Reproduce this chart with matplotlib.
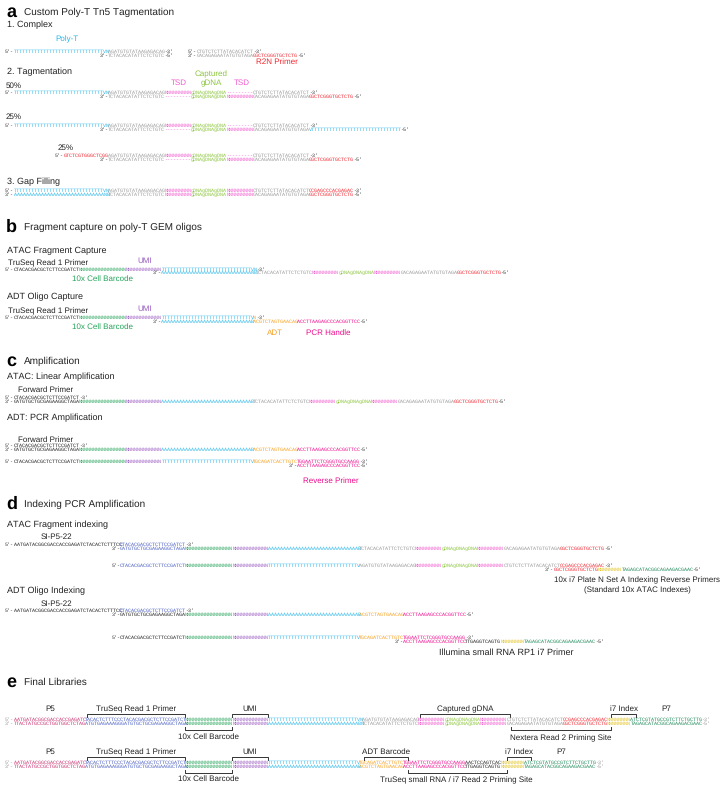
import matplotlib.pyplot as plt

plt.rcParams["text.hinting"] = "no_hinting"
plt.rcParams["text.hinting_factor"] = 1

# sequence pieces used in the schematic
T30 = "T" * 30
A30 = "A" * 30
ME = "AGATGTGTATAAGAGACAG"
ME_C = "TCTACACATATTCTCTGTC"
ME_RC = "CTGTCTCTTATACACATCT"
ME_RC_C = "GACAGAGAATATGTGTAGA"
R2N = "GGCTCGGGTGCTCTG"
R2N_C = "CCGAGCCCACGAGAC"
R2N_FWD = "GTCTCGTGGGCTCGG"
TSD = "N" * 9
GDNA = "gDNAgDNAgDNA"
GAP = "-" * 9
BC = "N" * 16
UMI = "N" * 12
R1 = "CTACACGACGCTCTTCCGATCT"
R1_C = "GATGTGCTGCGAGAAGGCTAGA"
SI_P5 = "AATGATACGGCGACCACCGAGATCTACACTCTTTCC"
ADT = "ACGTCTAGTGAACAG"
ADT_C = "TGCAGATCACTTGTC"
HANDLE = "ACCTTAAGAGCCCACGGTTCC"
HANDLE_C = "TGGAATTCTCGGGTGCCAAGG"
RP1 = "AACTCCAGTCAC"
RP1_C = "TTGAGGTCAGTG"
I7 = "N" * 8
P7 = "ATCTCGTATGCCGTCTTCTGCTTG"
P7_C = "TAGAGCATACGGCAGAAGACGAAC"
P5 = "AATGATACGGCGACCACCGAGATC"
P5_C = "TTACTATGCCGCTGGTGGCTCTAG"
R1_FULL = "TACACTCTTTCCCTACACGACGCTCTTCCGATCT"
R1_FULL_C = "ATGTGAGAAAGGGATGTGCTGCGAGAAGGCTAGA"

# colours
C_END = "#333333"
C_GRAY = "#9a9a9a"
C_CYAN = "#29b6e8"
C_RED = "#f2262f"
C_TSD = "#f25ccf"
C_GDNA = "#8cc63f"
C_BC = "#25a55a"
C_UMI = "#9a5cc0"
C_ADT = "#f7a021"
C_HANDLE = "#ec0b8c"
C_BLUE = "#4a5fc4"
C_P5 = "#c8306e"
C_I7 = "#e0c21c"
C_P7 = "#1f8a5a"
C_BLK = "#222222"

CW = 2.95          # px per sequence character
X0 = 5
SANS = "Liberation Sans"
MONO = "Liberation Mono"

fig = plt.figure(figsize=(7.28, 7.88), dpi=100)
ax = fig.add_axes([0, 0, 1, 1])
ax.set_xlim(0, 728)
ax.set_ylim(788, 0)
ax.axis("off")

# calibrate the monospace size so one character is CW pixels wide
probe = ax.text(0, 0, "N" * 200, fontsize=10, family=MONO)
fig.canvas.draw()
SEQ_FS = 10 * CW / (probe.get_window_extent().width / 200)
probe.remove()


def strand(col, y, parts):
    x = X0 + col * CW
    for s, c in parts:
        ax.text(x, y, s, color=c, fontsize=SEQ_FS, family=MONO,
                ha="left", va="center")
        x += len(s) * CW


def label(x, y, s, size=6, color="#222222", ha="left", weight="normal"):
    ax.text(x, y, s, fontsize=size, color=color, ha=ha, va="center",
            family=SANS, fontweight=weight)


def panel(y, letter, title):
    label(6, y, letter, size=13, weight="bold", color="black")
    label(24, y, title, size=7)


def bracket(x0, x1, y, up):
    d = 3 if up else -3
    ax.plot([x0, x0, x1, x1], [y + d, y, y, y + d], color="#333333", lw=0.7)


# ---------------- a ----------------
panel(12, "a", "Custom Poly-T Tn5 Tagmentation")
label(7, 25, "1. Complex", size=6.8)
label(67, 39, "Poly-T", size=6, color=C_CYAN, ha="center")
strand(0, 52, [("5'-", C_END), (T30 + "VN", C_CYAN), (ME, C_GRAY), ("-3'", C_END)])
strand(32, 56, [("3'-", C_END), (ME_C, C_GRAY), ("-5'", C_END)])
strand(62, 52, [("5'-", C_END), (ME_RC, C_GRAY), ("-3'", C_END)])
strand(62, 56, [("3'-", C_END), (ME_RC_C, C_GRAY), (R2N, C_RED), ("-5'", C_END)])
label(277, 62, "R2N Primer", size=6, color=C_RED, ha="center")

label(7, 72, "2. Tagmentation", size=6.8)
label(211, 74, "Captured", size=6, color=C_GDNA, ha="center")
label(211, 83, "gDNA", size=6, color=C_GDNA, ha="center")
label(179, 83, "TSD", size=6, color=C_TSD, ha="center")
label(242, 83, "TSD", size=6, color=C_TSD, ha="center")

top_frag = [(ME, C_GRAY), (TSD, C_TSD), (GDNA, C_GDNA), (GAP, C_TSD),
            (ME_RC, C_GRAY), ("-3'", C_END)]
bot_frag = [("3'-", C_END), (ME_C, C_GRAY), (GAP, C_TSD), (GDNA, C_GDNA),
            (TSD, C_TSD), (ME_RC_C, C_GRAY)]

label(6, 86, "50%", size=6)
strand(0, 93, [("5'-", C_END), (T30 + "VN", C_CYAN)] + top_frag)
strand(32, 97, bot_frag + [(R2N, C_RED), ("-5'", C_END)])

label(6, 117, "25%", size=6)
strand(0, 126, [("5'-", C_END), (T30 + "VN", C_CYAN)] + top_frag)
strand(32, 130, bot_frag + [("V" + T30, C_CYAN), ("-5'", C_END)])

label(58, 148, "25%", size=6)
strand(17, 156, [("5'-", C_END), (R2N_FWD, C_RED)] + top_frag)
strand(32, 160, bot_frag + [(R2N, C_RED), ("-5'", C_END)])

label(7, 182, "3. Gap Filling", size=6.8)
strand(0, 191, [("5'-", C_END), (T30 + "VN", C_CYAN), (ME, C_GRAY), (TSD, C_TSD),
                (GDNA, C_GDNA), (TSD, C_TSD), (ME_RC, C_GRAY), (R2N_C, C_RED),
                ("-3'", C_END)])
strand(0, 195, [("3'-", C_END), (A30 + "NB", C_CYAN), (ME_C, C_GRAY), (TSD, C_TSD),
                (GDNA, C_GDNA), (TSD, C_TSD), (ME_RC_C, C_GRAY), (R2N, C_RED),
                ("-5'", C_END)])

# ---------------- b ----------------
panel(227, "b", "Fragment capture on poly-T GEM oligos")
label(7, 251, "ATAC Fragment Capture", size=6.8)
label(8, 263.5, "TruSeq Read 1 Primer", size=6)
label(145, 261, "UMI", size=6, color=C_UMI, ha="center")
strand(0, 269.5, [("5'-", C_END), (R1, C_BLK), (BC, C_BC), (UMI, C_UMI),
                  (T30 + "VN", C_CYAN), ("-3'", C_END)])
strand(50, 273, [("3'-", C_END), (A30 + "NB", C_CYAN), (ME_C, C_GRAY), (TSD, C_TSD),
                 (GDNA, C_GDNA), (TSD, C_TSD), (ME_RC_C, C_GRAY), (R2N, C_RED),
                 ("-5'", C_END)])
label(102, 279, "10x Cell Barcode", size=6, color=C_BC, ha="center")

label(7, 297, "ADT Oligo Capture", size=6.8)
label(8, 311, "TruSeq Read 1 Primer", size=6)
label(145, 309, "UMI", size=6, color=C_UMI, ha="center")
strand(0, 318, [("5'-", C_END), (R1, C_BLK), (BC, C_BC), (UMI, C_UMI),
                (T30 + "V", C_CYAN), ("N", C_ADT), ("-3'", C_END)])
strand(50, 321.5, [("3'-", C_END), (A30 + "B", C_CYAN), (ADT, C_ADT),
                   (HANDLE, C_HANDLE), ("-5'", C_END)])
label(102, 327, "10x Cell Barcode", size=6, color=C_BC, ha="center")
label(275, 333, "ADT", size=6, color=C_ADT, ha="center")
label(328, 333, "PCR Handle", size=6, color=C_HANDLE, ha="center")

# ---------------- c ----------------
panel(361, "c", "Amplification")
label(7, 377, "ATAC: Linear Amplification", size=6.8)
label(18, 390, "Forward Primer", size=6)
strand(0, 398, [("5'-", C_END), (R1, C_BLK), ("-3'", C_END)])
strand(0, 402, [("3'-", C_END), (R1_C, C_BLK), (BC, C_BC), (UMI, C_UMI),
                (A30 + "B", C_CYAN), (ME_C, C_GRAY), (TSD, C_TSD), (GDNA, C_GDNA),
                (TSD, C_TSD), (ME_RC_C, C_GRAY), (R2N, C_RED), ("-5'", C_END)])

label(7, 418, "ADT: PCR Amplification", size=6.8)
label(18, 440, "Forward Primer", size=6)
strand(0, 446, [("5'-", C_END), (R1, C_BLK), ("-3'", C_END)])
strand(0, 450, [("3'-", C_END), (R1_C, C_BLK), (BC, C_BC), (UMI, C_UMI),
                (A30 + "B", C_CYAN), (ADT, C_ADT), (HANDLE, C_HANDLE), ("-5'", C_END)])
strand(0, 462, [("5'-", C_END), (R1, C_BLK), (BC, C_BC), (UMI, C_UMI),
                (T30 + "V", C_CYAN), (ADT_C, C_ADT), (HANDLE_C, C_HANDLE),
                ("-3'", C_END)])
strand(96, 466, [("3'-", C_END), (HANDLE, C_HANDLE), ("-5'", C_END)])
label(331, 481, "Reverse Primer", size=6, color=C_HANDLE, ha="center")

# ---------------- d ----------------
panel(504, "d", "Indexing PCR Amplification")
label(7, 525, "ATAC Fragment indexing", size=6.8)
label(56, 537, "SI-P5-22", size=6, ha="center")
strand(0, 545, [("5'-", C_END), (SI_P5, C_BLK), (R1, C_BLUE), ("-3'", C_END)])
strand(36, 549, [("3'-", C_END), (R1_C, C_BLUE), (BC, C_BC), (UMI, C_UMI),
                 (A30 + "B", C_CYAN), (ME_C, C_GRAY), (TSD, C_TSD), (GDNA, C_GDNA),
                 (TSD, C_TSD), (ME_RC_C, C_GRAY), (R2N, C_RED), ("-5'", C_END)])
strand(36, 566, [("5'-", C_END), (R1, C_BLUE), (BC, C_BC), (UMI, C_UMI),
                 (T30 + "V", C_CYAN), (ME, C_GRAY), (TSD, C_TSD), (GDNA, C_GDNA),
                 (TSD, C_TSD), (ME_RC, C_GRAY), (R2N_C, C_RED), ("-3'", C_END)])
strand(183, 570, [("3'-", C_END), (R2N, C_RED), (I7, C_I7), (P7_C, C_P7),
                  ("-5'", C_END)])
label(637, 580, "10x i7 Plate N Set A Indexing Reverse Primers", size=5.9, ha="center")
label(637, 590, "(Standard 10x ATAC Indexes)", size=5.9, ha="center")

label(7, 591, "ADT Oligo Indexing", size=6.8)
label(56, 604, "SI-P5-22", size=6, ha="center")
strand(0, 611, [("5'-", C_END), (SI_P5, C_BLK), (R1, C_BLUE), ("-3'", C_END)])
strand(36, 615, [("3'-", C_END), (R1_C, C_BLK), (BC, C_BC), (UMI, C_UMI),
                 (A30 + "B", C_CYAN), (ADT, C_ADT), (HANDLE, C_HANDLE), ("-5'", C_END)])
strand(36, 638, [("5'-", C_END), (R1, C_BLK), (BC, C_BC), (UMI, C_UMI),
                 (T30 + "V", C_CYAN), (ADT_C, C_ADT), (HANDLE_C, C_HANDLE),
                 ("-3'", C_END)])
strand(132, 642, [("3'-", C_END), (HANDLE, C_HANDLE), (RP1_C, C_BLK), (I7, C_I7),
                  (P7_C, C_P7), ("-5'", C_END)])
label(506, 653, "Illumina small RNA RP1 i7 Primer", size=6.3, ha="center")

# ---------------- e ----------------
panel(682, "e", "Final Libraries")

# ATAC library
strand(0, 720, [("5'-", C_GRAY), (P5, C_P5), (R1_FULL, C_BLUE), (BC, C_BC),
                (UMI, C_UMI), (T30 + "VN", C_CYAN), (ME, C_GRAY), (TSD, C_TSD),
                (GDNA, C_GDNA), (TSD, C_TSD), (ME_RC, C_GRAY), (R2N_C, C_RED),
                (I7, C_I7), (P7, C_P7), ("-3'", C_GRAY)])
strand(0, 723.5, [("3'-", C_GRAY), (P5_C, C_P5), (R1_FULL_C, C_BLUE), (BC, C_BC),
                  (UMI, C_UMI), (A30 + "BN", C_CYAN), (ME_C, C_GRAY), (TSD, C_TSD),
                  (GDNA, C_GDNA), (TSD, C_TSD), (ME_RC_C, C_GRAY), (R2N, C_RED),
                  (I7, C_I7), (P7_C, C_P7), ("-5'", C_GRAY)])
label(50, 709, "P5", size=6, ha="center")
label(136, 709, "TruSeq Read 1 Primer", size=6, ha="center")
bracket(87, 185, 714, True)
label(250, 709, "UMI", size=6, ha="center")
bracket(232, 268, 714, True)
label(465, 709, "Captured gDNA", size=6, ha="center")
bracket(420, 510, 714, True)
label(624, 709, "i7 Index", size=6, ha="center")
bracket(611, 636, 714, True)
label(666, 709, "P7", size=6, ha="center")
bracket(185, 232, 730, False)
label(208, 737, "10x Cell Barcode", size=6, ha="center")
bracket(511, 611, 730, False)
label(561, 738, "Nextera Read 2 Priming Site", size=6, ha="center")

# ADT library
strand(0, 763, [("5'-", C_GRAY), (P5, C_P5), (R1_FULL, C_BLUE), (BC, C_BC),
                (UMI, C_UMI), (T30 + "V", C_CYAN), (ADT_C, C_ADT),
                (HANDLE_C, C_HANDLE), (RP1, C_BLK), (I7, C_I7), (P7, C_P7),
                ("-3'", C_GRAY)])
strand(0, 766.5, [("3'-", C_GRAY), (P5_C, C_P5), (R1_FULL_C, C_BLUE), (BC, C_BC),
                  (UMI, C_UMI), (A30 + "B", C_CYAN), (ADT, C_ADT),
                  (HANDLE, C_HANDLE), (RP1_C, C_BLK), (I7, C_I7), (P7_C, C_P7),
                  ("-5'", C_GRAY)])
label(50, 752, "P5", size=6, ha="center")
label(136, 752, "TruSeq Read 1 Primer", size=6, ha="center")
bracket(87, 185, 757, True)
label(250, 752, "UMI", size=6, ha="center")
bracket(232, 268, 757, True)
label(386, 752, "ADT Barcode", size=6, ha="center")
bracket(364, 408, 757, True)
label(519, 752, "i7 Index", size=6, ha="center")
bracket(507, 531, 757, True)
label(561, 752, "P7", size=6, ha="center")
bracket(185, 232, 773, False)
label(208, 779, "10x Cell Barcode", size=6, ha="center")
bracket(408, 507, 773, False)
label(456, 780, "TruSeq small RNA / i7 Read 2 Priming Site", size=6, ha="center")

fig.savefig("out.png", dpi=100)
